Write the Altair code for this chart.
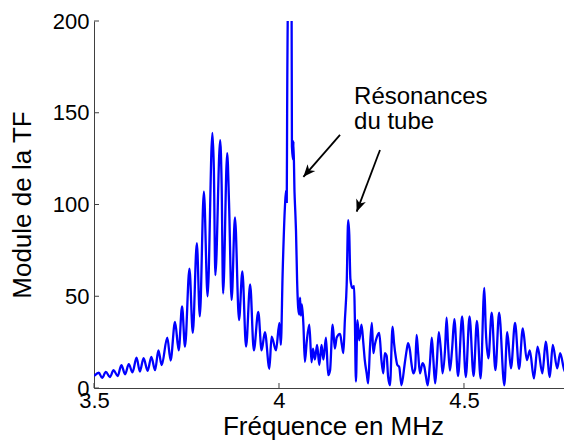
import altair as alt
import pandas as pd

# Spectrum (frequency in MHz, modulus of FT)
freq = [3.500, 3.513, 3.522, 3.532, 3.543, 3.553, 3.564, 3.574, 3.584, 3.594,
        3.604, 3.615, 3.624, 3.634, 3.645, 3.655, 3.665, 3.674, 3.683, 3.698,
        3.707, 3.719, 3.729, 3.738, 3.746, 3.758, 3.767, 3.778, 3.786, 3.797,
        3.807, 3.820, 3.824, 3.828, 3.841, 3.845, 3.849, 3.860, 3.865, 3.872,
        3.881, 3.892, 3.901, 3.911, 3.922, 3.932, 3.944, 3.953, 3.962, 3.974,
        3.980, 3.992, 4.001, 4.005, 4.010, 4.016, 4.019, 4.021, 4.022, 4.025,
        4.030, 4.034, 4.035, 4.038, 4.039, 4.042, 4.044, 4.046, 4.049, 4.052,
        4.055, 4.057, 4.059, 4.062, 4.066, 4.070, 4.075, 4.082, 4.088, 4.092,
        4.097, 4.103, 4.109, 4.115, 4.120, 4.127, 4.133, 4.138, 4.145, 4.151,
        4.156, 4.165, 4.170, 4.174, 4.178, 4.183, 4.187, 4.190, 4.193, 4.198,
        4.203, 4.205, 4.208, 4.212, 4.217, 4.223, 4.228, 4.232, 4.237, 4.241,
        4.246, 4.251, 4.255, 4.259, 4.265, 4.271, 4.277, 4.282, 4.286, 4.291,
        4.295, 4.300, 4.307, 4.311, 4.316, 4.320, 4.325, 4.331, 4.340, 4.345,
        4.349, 4.354, 4.358, 4.363, 4.368, 4.372, 4.376, 4.381, 4.388, 4.393,
        4.397, 4.402, 4.408, 4.413, 4.417, 4.422, 4.426, 4.432, 4.438, 4.442,
        4.449, 4.453, 4.457, 4.462, 4.468, 4.474, 4.484, 4.495, 4.505, 4.515,
        4.526, 4.535, 4.545, 4.555, 4.559, 4.566, 4.575, 4.585, 4.595, 4.609,
        4.617, 4.627, 4.638, 4.649, 4.659, 4.670, 4.678, 4.689, 4.699, 4.712,
        4.721, 4.732, 4.740, 4.752, 4.760, 4.773, 4.782, 4.792]
amp = [6.5, 8.3, 5.5, 8.8, 6.0, 9.7, 6.5, 12.5, 7.5, 13.0,
       8.5, 16.5, 9.0, 16.3, 9.4, 17.0, 9.7, 20.5, 12.5, 27.5,
       15.0, 36.0, 20.5, 44.5, 22.5, 65.0, 30.0, 79.0, 39.0, 107.0,
       50.0, 139.0, 119.0, 61.5, 135.0, 111.0, 51.5, 128.0, 101.0, 48.0,
       93.0, 37.0, 63.5, 22.5, 56.5, 20.5, 41.5, 20.5, 30.5, 10.5,
       28.0, 20.5, 35.5, 23.5, 63.5, 98.5, 107.5, 101.5, 149.5, 215.0,
       212.0, 215.0, 131.5, 124.5, 134.5, 106.5, 96.5, 85.5, 58.5, 43.5,
       40.0, 49.3, 39.5, 45.5, 34.5, 14.3, 25.3, 34.5, 14.0, 21.5,
       15.5, 23.5, 12.5, 23.5, 15.5, 27.5, 7.0, 9.5, 34.5, 21.5,
       27.5, 29.5, 23.5, 19.0, 36.5, 56.5, 91.5, 83.5, 59.5, 54.5,
       55.5, 39.0, 3.5, 37.0, 26.0, 34.5, 24.5, 15.0, 8.0, 2.5,
       22.5, 35.5, 19.0, 23.5, 28.0, 30.0, 15.0, 8.0, 19.0, 17.5,
       6.0, 1.5, 33.5, 24.5, 16.5, 12.5, 11.5, 1.5, 13.5, 20.5,
       24.5, 20.5, 13.5, 8.0, 10.5, 29.0, 19.5, 8.0, 13.5, 11.5,
       6.5, 1.5, 13.5, 27.5, 16.5, 2.5, 11.5, 30.5, 19.5, 8.0,
       21.5, 38.3, 23.5, 9.5, 21.5, 37.5, 6.5, 39.0, 6.0, 39.0,
       6.5, 36.5, 5.2, 54.5, 31.5, 16.2, 41.0, 9.7, 41.0, 1.5,
       30.5, 10.7, 35.5, 10.5, 32.5, 15.2, 20.5, 5.2, 22.5, 8.0,
       25.3, 6.0, 23.5, 10.7, 19.0, 8.8, 17.0, 6.0]

x_ticks = [3.5, 4.0, 4.5]
y_ticks = [0, 50, 100, 150, 200]

ann_text = ["Résonances", "du tube"]
ann_x = [4.203, 4.203]
ann_y = [154.5, 141.0]

arrow_x = [4.165, 4.273]
arrow_y = [137.9, 129.7]
arrow_x2 = [4.066, 4.210]
arrow_y2 = [115.1, 96.1]
arrow_angle = [221, 201]

W, H = 478, 367
FONT = "Liberation Sans"

df = pd.DataFrame({"freq": freq, "amp": amp})
df_xt = pd.DataFrame({"freq": x_ticks})
df_yt = pd.DataFrame({"amp": y_ticks})
df_ann = pd.DataFrame({"t": ann_text, "freq": ann_x, "amp": ann_y})
df_arr = pd.DataFrame({"freq": arrow_x, "amp": arrow_y, "freq2": arrow_x2,
                       "amp2": arrow_y2, "ang": arrow_angle})

xs = alt.Scale(domain=[3.5, 4.792], nice=False, zero=False)
ys = alt.Scale(domain=[0, 200], nice=False, zero=False)

x_axis = alt.Axis(values=x_ticks, format="~g", title="Fréquence en MHz",
                  labelFlush=False, tickSize=0, labelPadding=2, titlePadding=2)
y_axis = alt.Axis(values=y_ticks, format="d", title="Module de la TF",
                  tickSize=0, labelPadding=5, titlePadding=17)

line = alt.Chart(df).mark_line(
    color="#0000FF", strokeWidth=2.3, interpolate="monotone", clip=True
).encode(
    x=alt.X("freq:Q", scale=xs, axis=x_axis),
    y=alt.Y("amp:Q", scale=ys, axis=y_axis),
)

xtick = alt.Chart(df_xt).mark_rule(color="#404040", strokeWidth=1).encode(
    x=alt.X("freq:Q", scale=xs, axis=x_axis),
    y=alt.value(H), y2=alt.value(H - 5))
ytick = alt.Chart(df_yt).mark_rule(color="#404040", strokeWidth=1).encode(
    y=alt.Y("amp:Q", scale=ys, axis=y_axis),
    x=alt.value(0), x2=alt.value(5))

ann = alt.Chart(df_ann).mark_text(
    align="left", baseline="alphabetic", fontSize=24, font=FONT, color="black"
).encode(x=alt.X("freq:Q", scale=xs, axis=x_axis),
         y=alt.Y("amp:Q", scale=ys, axis=y_axis), text="t:N")

arr_line = alt.Chart(df_arr).mark_rule(color="black", strokeWidth=1.8).encode(
    x=alt.X("freq:Q", scale=xs, axis=x_axis),
    y=alt.Y("amp:Q", scale=ys, axis=y_axis),
    x2="freq2:Q", y2="amp2:Q")
arr_head = alt.Chart(df_arr).mark_point(
    shape="M0,0 L-0.42,1 L0,0.72 L0.42,1 Z", filled=True, color="black",
    opacity=1, size=600
).encode(x=alt.X("freq2:Q", scale=xs, axis=x_axis, title="Fréquence en MHz"),
         y=alt.Y("amp2:Q", scale=ys, axis=y_axis, title="Module de la TF"),
         angle=alt.Angle("ang:Q", scale=None))

chart = alt.layer(line, xtick, ytick, arr_line, arr_head, ann).properties(
    width=W, height=H,
    autosize=alt.AutoSizeParams(type="none"),
    padding={"left": 86, "top": 13, "right": -8, "bottom": 55},
).configure_view(stroke=None).configure_axis(
    domainColor="#404040", domainWidth=1, grid=False,
    labelFont=FONT, labelFontSize=22, labelColor="black",
    titleFont=FONT, titleFontSize=26, titleColor="black", titleFontWeight="normal",
)

chart.save("out.html", embed_options={"renderer": "svg", "actions": False})
